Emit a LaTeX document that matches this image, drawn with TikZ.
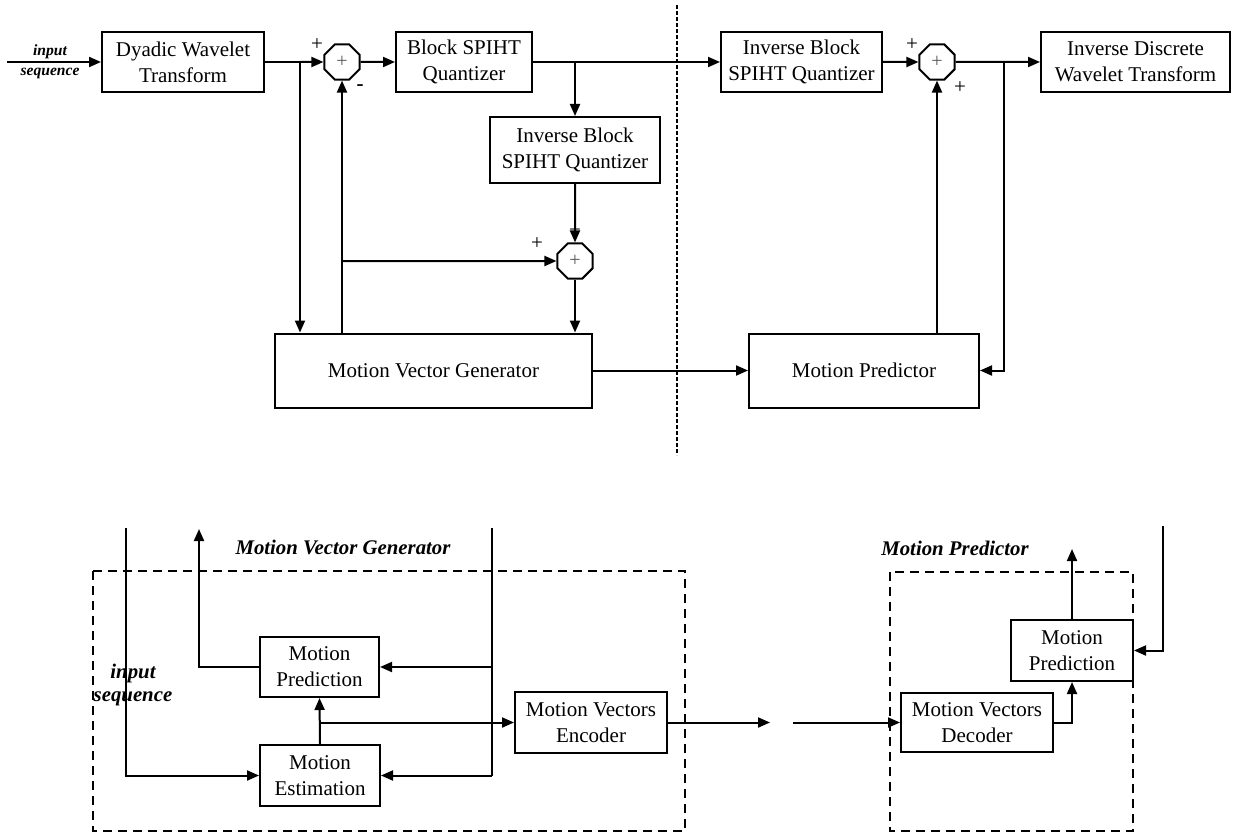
\documentclass[tikz,border=0pt]{standalone}
\usepackage{fontspec}
\setmainfont{Liberation Serif}
\usetikzlibrary{arrows.meta,shapes.geometric}
\begin{document}
\begin{tikzpicture}[x=0.5pt,y=-0.5pt,
  blk/.style={draw,line width=1pt,align=center,inner sep=0pt,font=\fontsize{10.5}{13}\selectfont},
  sumnode/.style={draw,line width=1pt,regular polygon,regular polygon sides=8,minimum size=19pt,inner sep=0pt,font=\fontsize{10}{10}\selectfont,text=black!65},
  conn/.style={line width=1pt,-{Triangle[length=6pt,width=5pt]}},
  wire/.style={line width=1pt},
  sgn/.style={font=\fontsize{10.5}{12}\selectfont,inner sep=0pt},
  lbl/.style={font=\fontsize{7.8}{9}\selectfont\bfseries\itshape,inner sep=0pt},
  biglbl/.style={font=\fontsize{10.4}{13}\selectfont\bfseries\itshape,inner sep=0pt},
  grp/.style={line width=0.8pt,dash pattern=on 4.5pt off 3pt},
  divider/.style={line width=0.7pt,dash pattern=on 2pt off 1pt},
]
\useasboundingbox (0,0) rectangle (1234,834);

% ---------- top: blocks ----------
\node[blk,minimum width=81pt,minimum height=30pt] (dwt) at (183,62) {Dyadic Wavelet\\Transform};
\node[blk,minimum width=68pt,minimum height=30pt] (bsq) at (464,62) {Block SPIHT\\Quantizer};
\node[blk,minimum width=85pt,minimum height=33pt] (ibsqa) at (575,150) {Inverse Block\\SPIHT Quantizer};
\node[blk,minimum width=158.5pt,minimum height=37pt] (mvg) at (433.5,370.5) {Motion Vector Generator};
\node[blk,minimum width=115pt,minimum height=37pt] (mp) at (864,370.5) {Motion Predictor};
\node[blk,minimum width=80.5pt,minimum height=30pt] (ibsqb) at (801.5,62) {Inverse Block\\SPIHT Quantizer};
\node[blk,minimum width=94.5pt,minimum height=30pt] (idwt) at (1135.5,62) {Inverse Discrete\\Wavelet Transform};
\node[sumnode] (s1) at (342,62) {+};
\node[sumnode] (s2) at (575,261) {+};
\node[sumnode] (s3) at (937,62) {+};

% input
\coordinate (in) at (7,62);
\draw[conn] (in) -- (dwt.west);
\node[lbl] (inl1) at (50,52) {input};
\node[lbl] (inl2) at (50,73) {sequence};

% top connectors
\coordinate (b1) at (300,62);
\draw[wire] (dwt.east) -- (b1);
\draw[conn] (b1) -- (s1.west);
\draw[conn] (b1) -- (b1 |- mvg.north);
\coordinate (b2) at (342,261);
\draw[conn] (s1.south |- mvg.north) -- (s1.south);
\draw[conn] (b2) -- (s2.west);
\draw[conn] (s1.east) -- (bsq.west);
\coordinate (b3) at (575,62);
\draw[wire] (bsq.east) -- (b3);
\draw[conn] (b3) -- (ibsqb.west);
\draw[conn] (b3) -- (ibsqa.north);
\draw[conn] (ibsqa.south) -- (s2.north);
\draw[conn] (s2.south) -- (s2.south |- mvg.north);
\draw[conn] (mvg.east) -- (mp.west);
\draw[conn] (ibsqb.east) -- (s3.west);
\draw[conn] (s3.east) -- (idwt.west);
\coordinate (b4) at (1004,62);
\coordinate (b5) at (1004,370.5);
\draw[conn] (b4) -- (b5) -- (mp.east);
\draw[conn] (mp.north -| s3.south) -- (s3.south);

% signs
\node[sgn] (p1) at (317,45) {+};
\node[sgn] (m1) at (360,88) {\textbf{-}};
\node[sgn] (p2) at (537,244) {+};
\node[sgn] (p3) at (575,231) {+};
\node[sgn] (p4) at (912,45) {+};
\node[sgn] (p5) at (960,88) {+};

% divider
\coordinate (dt) at (677,5);
\coordinate (db) at (677,455);
\draw[divider] (dt) -- (db);

% ---------- bottom ----------
\draw[grp] (93,571) rectangle (685,831);
\draw[grp] (890,572) rectangle (1133,831);
\node[biglbl] (t1) at (343,547) {Motion Vector Generator};
\node[biglbl] (t2) at (955,548) {Motion Predictor};
\node[biglbl] (is1) at (133,673) {input};
\node[biglbl] (is2) at (133,699) {sequence};

\node[blk,minimum width=59.5pt,minimum height=30pt] (pr) at (319.5,667) {Motion\\Prediction};
\node[blk,minimum width=60pt,minimum height=30.5pt] (me) at (320,775.5) {Motion\\Estimation};
\node[blk,minimum width=76pt,minimum height=30.5pt] (mve) at (591,722.5) {Motion Vectors\\Encoder};
\node[blk,minimum width=76pt,minimum height=29.5pt] (mvd) at (977,722.5) {Motion Vectors\\Decoder};
\node[blk,minimum width=61pt,minimum height=30.5pt] (pr2) at (1072,650.5) {Motion\\Prediction};

\coordinate (lt) at (126,528);
\coordinate (lb) at (126,775.5);
\draw[conn] (lt) -- (lb) -- (me.west);
\coordinate (rt) at (492,528);
\coordinate (rb) at (492,775.5);
\coordinate (rm) at (492,667);
\draw[wire] (rt) -- (rb);
\draw[conn] (rm) -- (pr.east);
\draw[conn] (rb) -- (me.east);
\coordinate (ut) at (199,529);
\draw[conn] (pr.west) -| (ut);
\draw[conn] (me.north) -- (pr.south);
\coordinate (bm) at (320,722.5);
\draw[conn] (bm) -- (mve.west);
\coordinate (ge) at (770,722.5);
\coordinate (gs) at (793,722.5);
\draw[conn] (mve.east) -- (ge);
\draw[conn] (gs) -- (mvd.west);
\draw[conn] (mvd.east) -| (pr2.south);
\coordinate (pt) at (1072,549);
\draw[conn] (pr2.north) -- (pt);
\coordinate (qt) at (1163,526);
\draw[conn] (qt) |- (pr2.east);
\end{tikzpicture}
\end{document}
